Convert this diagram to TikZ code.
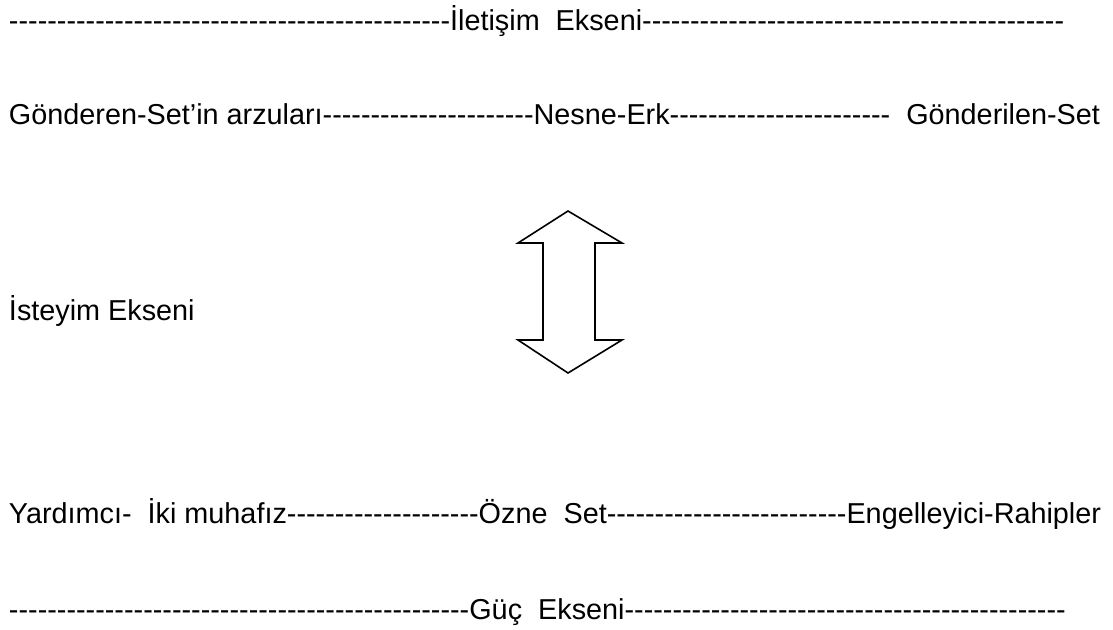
\documentclass[tikz,border=0pt]{standalone}
\usepackage{fontspec}
\setmainfont{Liberation Sans}[Ligatures=TeXOff]
\ExplSyntaxOn
\cs_new:Npn \hyrun #1 { \prg_replicate:nn {#1} {-} }
\ExplSyntaxOff
\tikzset{
  rowtext/.style={anchor=base west, inner sep=0pt, outer sep=0pt,
    font=\fontsize{28.8}{34}\selectfont},
  bigarrow/.style={draw=black, line width=1.6pt, fill=white, line join=miter}
}
\begin{document}
\begin{tikzpicture}[x=1pt,y=-1pt]
\useasboundingbox (0,0) rectangle (1113,629);
% communication axis
\node[rowtext] (iletisim) at (9,30) {\hyrun{46}İletişim\ \ Ekseni\hyrun{44}};
% sender -- object -- receiver
\node[rowtext] (gonderen) at (9,124) {Gönderen-Set’in arzuları\hyrun{22}Nesne-Erk\hyrun{23}\ \ Gönderilen-Set};
% desire axis
\node[rowtext] (isteyim) at (9,320) {İsteyim Ekseni};
% helper -- subject -- opponent
\node[rowtext] (yardimci) at (9,523) {Yardımcı-\ \ İki muhafız\hyrun{20}Özne\ \ Set\hyrun{25}Engelleyici-Rahipler};
% power axis
\node[rowtext] (guc) at (9,619) {\hyrun{48}Güç\ \ Ekseni\hyrun{46}};
% double-headed block arrow
\draw[bigarrow] (568,211) -- (622,243) -- (595,243) -- (595,340) -- (622,340)
  -- (568,373) -- (518,340) -- (543,340) -- (543,243) -- (518,243) -- cycle;
\end{tikzpicture}
\end{document}
